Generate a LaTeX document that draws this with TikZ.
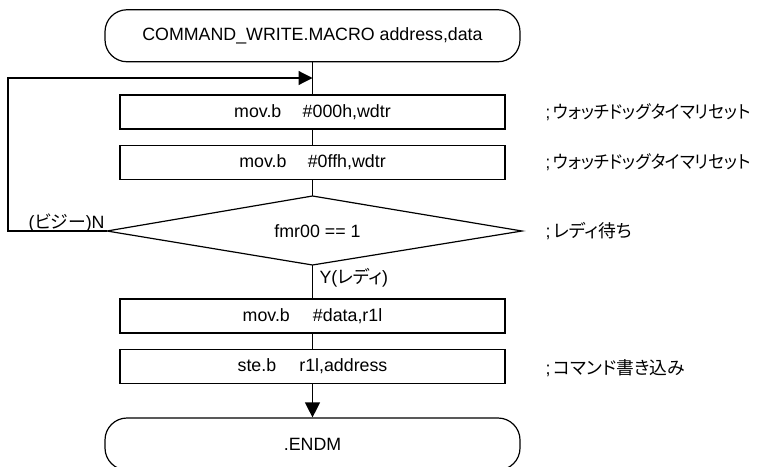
\documentclass[tikz,border=0pt]{standalone}
\usepackage{fontspec}
\setmainfont{Liberation Sans}
\newfontfamily\jp{Noto Sans CJK JP}[RawFeature=+palt]
\usetikzlibrary{arrows.meta}
\begin{document}
\begin{tikzpicture}[x=1pt,y=-1pt, line width=1.2pt,
  font=\fontsize{17.8}{20}\selectfont,
  box/.style={draw, minimum width=385pt, minimum height=34pt, inner sep=0pt},
  term/.style={draw, rounded corners=22pt, minimum width=415pt, minimum height=52pt, inner sep=0pt},
  note/.style={anchor=west, inner sep=0pt},
  arr/.style={-{Triangle[length=14pt,width=14pt]}}]
\useasboundingbox (0,0) rectangle (762,466);
\node[term] (start) at (312.5,35.75) {COMMAND\_WRITE.MACRO address,data};
\node[box] (b1) at (312.5,112) {mov.b\hspace{1.2em}\#000h,wdtr};
\node[box] (b2) at (312.5,162.5) {mov.b\hspace{1.2em}\#0ffh,wdtr};
\coordinate (dtop) at (312.5,196);
\coordinate (dleft) at (107,231);
\coordinate (dright) at (522,231);
\coordinate (dbot) at (312.5,265);
\draw (dtop) -- (dright) -- (dbot) -- (dleft) -- cycle;
\node[inner sep=0pt] (dec) at (317.5,231) {fmr00 == 1};
\node[box] (b3) at (312.5,316) {mov.b\hspace{1.3em}\#data,r1l};
\node[box] (b4) at (312.5,366.5) {ste.b\hspace{1.3em}r1l,address};
\node[term] (end) at (312.5,444) {.ENDM};
\coordinate (join) at (312.5,78);
\coordinate (lx) at (8,78);
\draw (start) -- (b1);
\draw (b1) -- (b2);
\draw (b2) -- (dtop);
\draw (dbot) -- (b3);
\draw (b3) -- (b4);
\draw[-{Triangle[length=15pt,width=15pt]}] (b4) -- (end);
\draw[arr] (dleft) -| (lx) -- (join);
\node[anchor=base west, inner sep=0pt] (busy) at (28,228) {(\jp ビジー\rmfamily)N};
\node[anchor=west, inner sep=0pt] (yes) at (319,278) {Y(\jp レディ\rmfamily)};
\node[note] (n1) at (545,112) {\resizebox{205pt}{\height}{;\,\jp ウォッチドッグタイマリセット}};
\node[note] (n2) at (545,162) {\resizebox{205pt}{\height}{;\,\jp ウォッチドッグタイマリセット}};
\node[note] (n3) at (545,231) {;\,\jp レディ待ち};
\node[note] (n4) at (545,368) {;\,\jp コマンド書き込み};
\end{tikzpicture}
\end{document}
